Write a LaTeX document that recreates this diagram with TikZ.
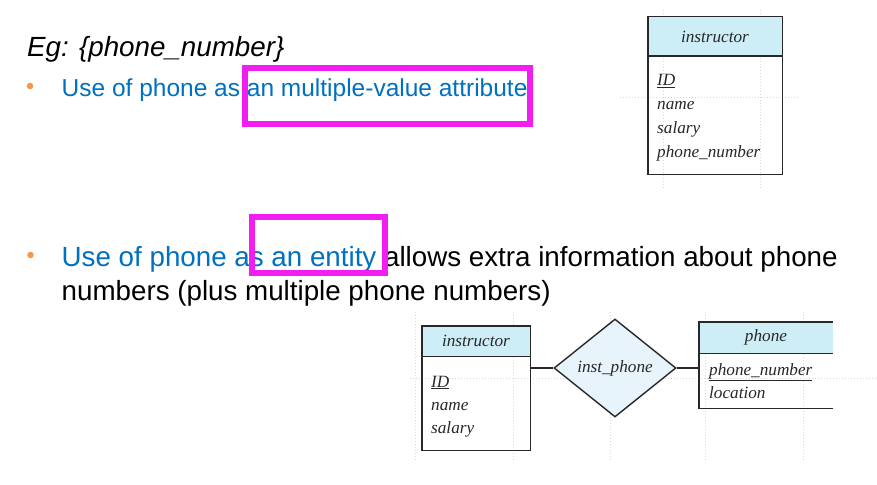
\documentclass[tikz,border=0pt]{standalone}
\usepackage{fontspec}
\newfontfamily\slidefont{Liberation Sans}
\newfontfamily\erfont{Liberation Serif}
\usetikzlibrary{shapes.geometric}
\definecolor{slideblue}{RGB}{0,112,192}
\definecolor{bulletorange}{RGB}{247,150,70}
\definecolor{hilite}{RGB}{240,30,240}
\definecolor{hdrfill}{RGB}{205,237,247}
\definecolor{relfill}{RGB}{232,244,252}
\definecolor{erline}{RGB}{40,40,40}
\begin{document}
\begin{tikzpicture}[x=1pt,y=-1pt,
  bulletdot/.style={circle,fill=bulletorange,inner sep=0pt,minimum size=6.5pt},
  bigtext/.style={anchor=base west,inner sep=0pt,font=\slidefont\fontsize{27.75}{33}\selectfont},
  midtext/.style={anchor=base west,inner sep=0pt,font=\slidefont\fontsize{24.5}{29}\selectfont},
  hibox/.style={draw=hilite,line width=6pt},
  entline/.style={draw=erline,line width=1.4pt},
  hdrbox/.style={fill=hdrfill,inner sep=0pt,font=\erfont\itshape\fontsize{17.2}{20}\selectfont,text=erline},
  bodybox/.style={inner sep=0pt},
  attr/.style={anchor=base west,inner sep=0pt,font=\erfont\itshape\fontsize{17.2}{20}\selectfont,text=erline},
  relbox/.style={diamond,draw=erline,line width=1.4pt,fill=relfill,inner sep=0pt,aspect=1.245,
    minimum width=122pt,minimum height=98pt,font=\erfont\itshape\fontsize{17.2}{20}\selectfont,text=erline},
  guide/.style={draw=gray!30,dotted,line width=1pt}
]
\useasboundingbox (0,0) rectangle (877,484);
\fill[white] (0,0) rectangle (877,484);

% faint guide lines of the figures
\draw[guide] (663,10) -- (663,190);
\draw[guide] (760,10) -- (760,190);
\draw[guide] (620,98) -- (800,98);
\draw[guide] (410,378) -- (877,378);
\foreach \gx in {415,513,610,705,803} \draw[guide] (\gx,312) -- (\gx,462);

% slide text
\node[bigtext,font=\slidefont\itshape\fontsize{27.75}{33}\selectfont] (eg) at (27,57) {Eg: \{phone\_number\}};
\node[bulletdot] (b1) at (30,86) {};
\node[midtext,text=slideblue] (l2) at (61.5,96) {Use of phone as an multiple-value attribute};
\node[bulletdot] (b2) at (30.5,255) {};
\node[bigtext] (l3) at (61.5,266) {\textcolor{slideblue}{Use of phone as an entity} allows extra information about phone};
\node[bigtext] (l4) at (61.5,300) {numbers (plus multiple phone numbers)};

% highlight boxes
\draw[hibox] (245.3,68) rectangle (530,124);
\draw[hibox] (252,217) rectangle (384.7,273);

% top entity: instructor with multivalued phone_number
\node[hdrbox,minimum width=134pt,minimum height=39pt] (ih1) at (715,36.5) {instructor};
\node[bodybox,minimum width=134pt,minimum height=118pt] (ib1) at (715,115) {};
\draw[entline] (ih1.north west) rectangle (ib1.south east);
\draw[entline] (ih1.south west) -- (ih1.south east);
\node[attr] (a1) at (657,86) {\underline{ID}};
\node[attr] (a2) at (657,110) {name};
\node[attr] (a3) at (657,133) {salary};
\node[attr] (a4) at (657,157) {phone\_number};

% bottom: instructor -- inst_phone -- phone
\node[hdrbox,minimum width=108pt,minimum height=30pt] (ih2) at (476,341) {instructor};
\node[bodybox,minimum width=108pt,minimum height=94pt] (ib2) at (476,403) {};
\draw[entline] (ih2.north west) rectangle (ib2.south east);
\draw[entline] (ih2.south west) -- (ih2.south east);
\node[attr] (c1) at (431,387) {\underline{ID}};
\node[attr] (c2) at (431,410) {name};
\node[attr] (c3) at (431,433) {salary};

\node[relbox] (rel) at (615,368) {inst\_phone};

\node[hdrbox,minimum width=134pt,minimum height=31pt] (ph) at (766,337.5) {phone};
\node[bodybox,minimum width=134pt,minimum height=55pt] (pb) at (766,380.5) {};
\draw[entline] (ph.north east) -- (ph.north west) -- (pb.south west) -- (pb.south east);
\draw[entline] (ph.south west) -- (ph.south east);
\node[attr] (p1) at (709,375) {\underline{phone\_number}};
\node[attr] (p2) at (709,398) {location};

\draw[entline] (rel.west -| ib2.east) -- (rel.west);
\draw[entline] (rel.east) -- (rel.east -| pb.west);
\end{tikzpicture}
\end{document}
